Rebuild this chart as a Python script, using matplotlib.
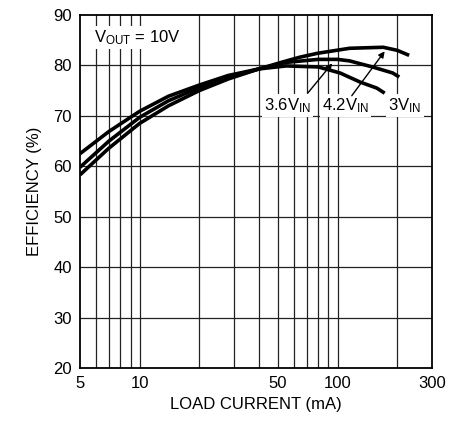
import matplotlib
matplotlib.use("Agg")
import matplotlib.pyplot as plt
from matplotlib import font_manager
from matplotlib.patches import FancyArrowPatch

fams = {f.name for f in font_manager.fontManager.ttflist}
FONT = "Liberation Sans Narrow" if "Liberation Sans Narrow" in fams else "Liberation Sans"
plt.rcParams["font.family"] = [FONT, "DejaVu Sans"]
plt.rcParams["mathtext.fontset"] = "custom"
plt.rcParams["mathtext.rm"] = FONT
plt.rcParams["mathtext.it"] = FONT

# Data
i_3v = [5, 7, 10, 14, 20, 28, 40, 55, 80, 103, 130, 158, 173]
e_3v = [62.5, 66.9, 70.9, 73.9, 76.1, 78.0, 79.3, 79.9, 79.7, 78.5, 76.7, 75.5, 74.5]
i_36 = [5, 7, 10, 14, 20, 28, 40, 55, 80, 100, 115, 150, 190, 205]
e_36 = [59.8, 65.0, 69.7, 73.0, 75.6, 77.6, 79.3, 80.6, 81.2, 81.2, 80.9, 79.7, 78.5, 77.7]
i_42 = [5, 7, 10, 14, 20, 28, 40, 53, 64, 79, 115, 170, 200, 230]
e_42 = [58.3, 63.6, 68.5, 72.0, 75.0, 77.3, 79.3, 80.7, 81.6, 82.4, 83.4, 83.6, 83.0, 82.0]

x_ticks = [5, 10, 50, 100, 300]
x_grid = [6, 7, 8, 9, 10, 20, 30, 40, 50, 60, 70, 80, 90, 100, 200]
y_ticks = [20, 30, 40, 50, 60, 70, 80, 90]

fig = plt.figure(figsize=(4.52, 4.21), dpi=100)
ax = fig.add_axes([80 / 452, 1 - 368 / 421, 352 / 452, 353 / 421])
ax.set_xscale("log")
ax.set_xlim(5, 300)
ax.set_ylim(20, 90)

for xv in x_grid:
    ax.axvline(xv, color="#222222", lw=0.9, zorder=1)
for yv in y_ticks[1:-1]:
    ax.axhline(yv, color="#222222", lw=0.9, zorder=1)

for xs, ys in [(i_3v, e_3v), (i_36, e_36), (i_42, e_42)]:
    ax.plot(xs, ys, color="black", lw=2.6, solid_capstyle="butt", zorder=3)

ax.set_xticks(x_ticks)
ax.set_xticklabels([str(v) for v in x_ticks])
ax.set_xticks([], minor=True)
ax.set_yticks(y_ticks)
ax.tick_params(length=0, labelsize=12, pad=6)
for s in ax.spines.values():
    s.set_linewidth(1.3)
    s.set_zorder(5)

ax.set_xlabel("LOAD CURRENT (mA)", fontsize=12, labelpad=4)
ax.set_ylabel("EFFICIENCY (%)", fontsize=12, labelpad=8)

bb = dict(facecolor="white", edgecolor="none", pad=1.5)
ax.text(5.9, 85.5, r"V$_{\mathregular{OUT}}$ = 10V", fontsize=12, va="center", ha="left",
        bbox=bb, zorder=4)

ax.text(55.6, 72.0, r"3.6V$_{\mathregular{IN}}$", fontsize=12, ha="center", va="center", bbox=bb, zorder=4)
ax.text(110, 72.0, r"4.2V$_{\mathregular{IN}}$", fontsize=12, ha="center", va="center", bbox=bb, zorder=4)
ax.text(219, 72.0, r"3V$_{\mathregular{IN}}$", fontsize=12, ha="center", va="center", bbox=bb, zorder=4)

for (x0, y0), (x1, y1) in [((71, 74.6), (94, 80.4)), ((118, 74.0), (173, 82.8))]:
    arr = FancyArrowPatch((x0, y0), (x1, y1), arrowstyle="-|>", mutation_scale=9,
                          color="black", lw=1.0, shrinkA=0, shrinkB=0, zorder=6)
    ax.add_patch(arr)

fig.savefig("out.png", dpi=100)
